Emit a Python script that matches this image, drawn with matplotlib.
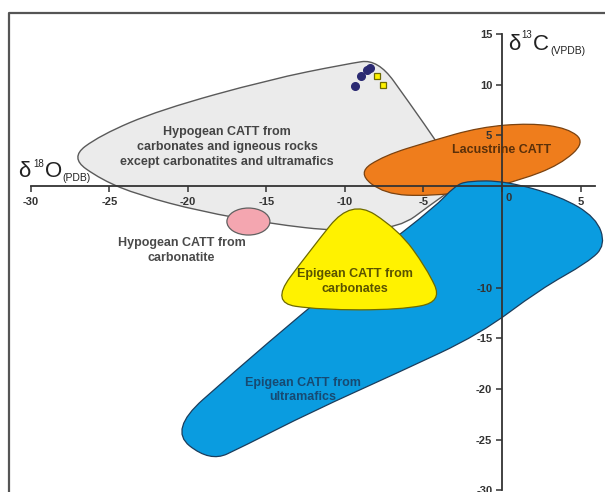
import numpy as np
import matplotlib
matplotlib.use('Agg')
import matplotlib.pyplot as plt
from matplotlib.path import Path
from matplotlib.patches import PathPatch, Ellipse

plt.rcParams['font.family'] = ['Liberation Sans', 'DejaVu Sans']

# outlines of the fields (delta18O, delta13C)
hypo_x = [-27.5, -25.6, -21.8, -14.8, -10.0, -7.9, -5.9, -4.0, -2.5, -4.6, -6.5, -10.3, -14.8, -19.2, -23.1, -25.5]
hypo_y = [2.8, 5.0, 7.5, 10.5, 12.0, 12.5, 8.2, 4.0, 0.4, -1.9, -4.1, -4.5, -3.7, -2.5, -0.9, 0.6]

lac_x = [-9.2, -7.5, -4.6, -1.4, 1.8, 4.2, 5.3, 3.7, 1.2, -1.4, -4.6, -7.5]
lac_y = [1.3, 3.0, 4.4, 5.8, 6.2, 5.7, 4.3, 2.1, 0.6, -0.4, -1.0, -0.8]

ultra_x = [-2.2, 0.2, 3.7, 6.0, 6.6, 5.5, 2.4, -1.4, -6.5, -12.2, -16.4, -18.6, -21.2, -16.9, -12.9, -7.8, -4.3, -3.0]
ultra_y = [0.5, 0.5, -1.0, -3.1, -5.8, -7.5, -10.2, -14.6, -18.3, -22.3, -25.6, -27.2, -24.0, -18.1, -12.8, -6.3, -2.1, 0.0]

carb_x = [-9.6, -6.6, -4.8, -3.8, -6.5, -11.6, -14.7, -12.3]
carb_y = [-1.3, -4.3, -8.1, -11.4, -12.2, -12.2, -11.5, -6.5]

# carbonatite field (ellipse)
cbt_center = (-16.15, -3.5)
cbt_w, cbt_h = 2.74, 2.66

# sample points
circ_x = [-9.36, -8.98, -8.6, -8.41]
circ_y = [9.85, 10.84, 11.43, 11.63]
sq_x = [-7.96, -7.58]
sq_y = [10.84, 9.95]

xticks = [-30, -25, -20, -15, -10, -5, 0, 5]
xlabels = ['-30', '-25', '-20', '-15', '-10', '-5', '', '5']
yticks = [-30, -25, -20, -15, -10, 5, 10, 15]
ylabels = ['-30', '-25', '-20', '-15', '-10', '5', '10', '15']


def smooth_path(xs, ys):
    pts = np.column_stack([xs, ys])
    mids = (pts + np.roll(pts, -1, axis=0)) / 2
    verts = [mids[-1]]
    codes = [Path.MOVETO]
    for i in range(len(pts)):
        verts += [pts[i], mids[i]]
        codes += [Path.CURVE3, Path.CURVE3]
    verts.append(mids[-1])
    codes.append(Path.CLOSEPOLY)
    return Path(verts, codes)


fig = plt.figure(figsize=(6.05, 4.92), dpi=100)
ax = fig.add_axes([0, 0, 1, 1])
ax.set_xlim(-31.97, 6.56)
ax.set_ylim(-30.15, 18.33)

ax.add_patch(PathPatch(smooth_path(hypo_x, hypo_y), fc='#ebebeb', ec='#5a5a5a', lw=1.0, zorder=1.0))
ax.add_patch(Ellipse(cbt_center, cbt_w, cbt_h, fc='#f4a6b0', ec='#606060', lw=0.9, zorder=1.1))
ax.add_patch(PathPatch(smooth_path(lac_x, lac_y), fc='#ef7d1c', ec='#7a4210', lw=0.9, zorder=1.2))
ax.add_patch(PathPatch(smooth_path(ultra_x, ultra_y), fc='#0a9ce0', ec='#1b3d5c', lw=0.9, zorder=1.3))
ax.add_patch(PathPatch(smooth_path(carb_x, carb_y), fc='#fff200', ec='#6e6a00', lw=0.9, zorder=1.4))

ax.plot(circ_x, circ_y, 'o', ms=5.5, color='#2b2a72', zorder=2)
ax.plot(sq_x, sq_y, 's', ms=5, mfc='#fff200', mec='#6e6a00', mew=0.9, zorder=2)

# axes crossing at origin
for s in ['top', 'right']:
    ax.spines[s].set_visible(False)
ax.spines['left'].set_position(('data', 0))
ax.spines['bottom'].set_position(('data', 0))
ax.spines['left'].set_bounds(-30, 15)
ax.spines['bottom'].set_bounds(-30, 5.9)
for s in ['left', 'bottom']:
    ax.spines[s].set_color('#333333')
    ax.spines[s].set_linewidth(1.3)
ax.set_xticks(xticks)
ax.set_xticklabels(xlabels)
ax.set_yticks(yticks)
ax.set_yticklabels(ylabels)
ax.tick_params(direction='out', length=4, width=1.1, color='#333333',
               labelsize=8, labelcolor='#333333', pad=3)
ax.tick_params(axis='x', pad=4)
for lab in ax.get_xticklabels() + ax.get_yticklabels():
    lab.set_fontweight('bold')
ax.text(0.4, -1.15, '0', fontsize=8, fontweight='bold', color='#333333', ha='center', va='center')
ax.patch.set_visible(False)

# axis titles, built piece by piece (big delta, small superscript / subscript)
ax_kw = dict(color='#222222', ha='left', va='baseline')
ax.text(-30.83, 0.89, 'δ', fontsize=16, **ax_kw)
ax.text(-29.87, 1.9, '18', fontsize=7, **ax_kw)
ax.text(-29.1, 0.89, 'O', fontsize=16, **ax_kw)
ax.text(-28.0, 0.45, '(PDB)', fontsize=7.5, **ax_kw)
ax.text(0.38, 13.4, 'δ', fontsize=16, **ax_kw)
ax.text(1.21, 14.6, '13', fontsize=7, **ax_kw)
ax.text(1.97, 13.4, 'C', fontsize=16, **ax_kw)
ax.text(3.06, 13.0, '(VPDB)', fontsize=7.5, **ax_kw)

lab_kw = dict(fontsize=9, fontweight='bold', ha='center', va='center', linespacing=1.3, zorder=3)
ax.text(-17.5, 3.85, 'Hypogean CATT from\ncarbonates and igneous rocks\nexcept carbonatites and ultramafics',
        color='#444444', **lab_kw)
ax.text(0.0, 3.55, 'Lacustrine CATT', color='#5a300a', **lab_kw)
ax.text(-20.4, -6.35, 'Hypogean CATT from\ncarbonatite', color='#4a4a4a', **lab_kw)
ax.text(-9.36, -9.4, 'Epigean CATT from\ncarbonates', color='#5a5300', **lab_kw)
ax.text(-12.7, -20.1, 'Epigean CATT from\nultramafics', color='#174a72', **lab_kw)

# frame around the figure
fig.add_artist(plt.Line2D([9 / 605, 9 / 605, 1.0], [0.0, 1 - 13 / 492, 1 - 13 / 492],
                          transform=fig.transFigure, color='#555555', lw=1.6))

fig.savefig('out.png', dpi=100)
